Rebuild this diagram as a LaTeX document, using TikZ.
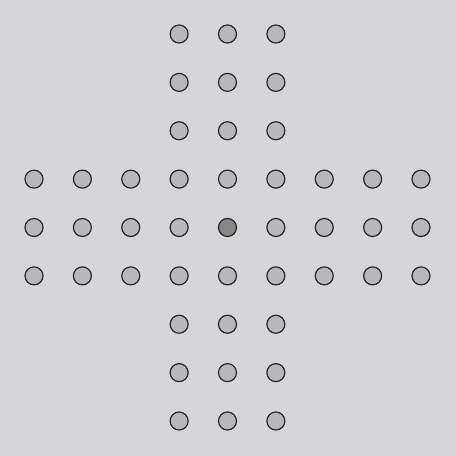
\documentclass[tikz,border=0pt]{standalone}
\begin{document}
\begin{tikzpicture}[x=1pt,y=-1pt,
  hole/.style={circle,draw=black!85,line width=1.2pt,fill=holefill,minimum size=18pt,inner sep=0pt},
  centerhole/.style={hole,fill=centerfill}]
\definecolor{bg}{HTML}{D6D6D8}
\definecolor{holefill}{HTML}{B8B8BA}
\definecolor{centerfill}{HTML}{888888}
\fill[bg] (0,0) rectangle (456,456);
\useasboundingbox (0,0) rectangle (456,456);
\foreach \i in {0,...,8}{
  \foreach \j in {0,...,8}{
    \pgfmathtruncatemacro{\inA}{(\i>=3 && \i<=5) ? 1 : 0}
    \pgfmathtruncatemacro{\inB}{(\j>=3 && \j<=5) ? 1 : 0}
    \pgfmathtruncatemacro{\show}{(\inA+\inB)>0 ? 1 : 0}
    \pgfmathtruncatemacro{\ctr}{(\i==4 && \j==4) ? 1 : 0}
    \ifnum\show=1
      \ifnum\ctr=1
        \node[centerhole] (h-\i-\j) at ({34+48.375*\i},{34+48.375*\j}) {};
      \else
        \node[hole] (h-\i-\j) at ({34+48.375*\i},{34+48.375*\j}) {};
      \fi
    \fi
  }
}
\end{tikzpicture}
\end{document}
